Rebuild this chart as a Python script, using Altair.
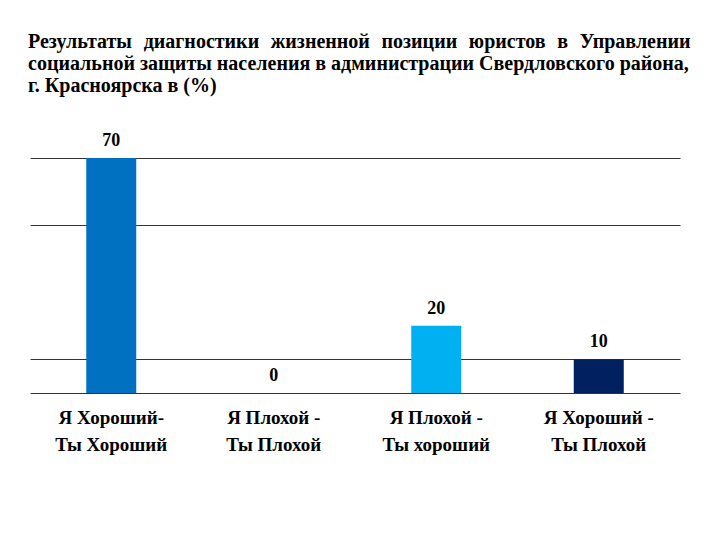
import altair as alt
import pandas as pd

categories = ["Я Хороший-|Ты Хороший", "Я Плохой -|Ты Плохой", "Я Плохой -|Ты хороший", "Я Хороший -|Ты Плохой"]
values = [70, 0, 20, 10]
colors = ["#0070C0", "#4F81BD", "#00B0F0", "#002060"]
grid_values = [0, 10, 50, 70]
GAP = "\u00a0\u00a0\u200a"
title_lines = [
    GAP.join(["Результаты", "диагностики", "жизненной", "позиции", "юристов", "в", "Управлении"]),
    "социальной защиты населения в администрации Свердловского района,",
    "г. Красноярска в (%)",
]

df = pd.DataFrame({"cat": categories, "val": values})
FONT = "Liberation Serif"

x = alt.X("cat:N", sort=categories, title=None,
          scale=alt.Scale(paddingInner=0, paddingOuter=0),
          axis=alt.Axis(labelAngle=0, labelExpr="split(datum.label, '|')",
                        labelFont=FONT, labelFontSize=19, labelFontWeight="bold",
                        labelColor="#000000", labelPadding=15, labelLineHeight=27,
                        domain=False, ticks=False, labelBaseline="top"))
y = alt.Y("val:Q", title=None, scale=alt.Scale(domain=[0, 70], nice=False),
          axis=alt.Axis(values=grid_values, grid=True, gridColor="#333333", gridWidth=1,
                        labels=False, ticks=False, domain=False))

bars = alt.Chart(df).mark_bar(size=50).encode(
    x=x, y=y,
    color=alt.Color("cat:N", sort=categories, scale=alt.Scale(domain=categories, range=colors), legend=None),
)
text = alt.Chart(df).mark_text(baseline="bottom", dy=-8, font=FONT, fontSize=18,
                               fontWeight="bold", color="#000000").encode(
    x=alt.X("cat:N", sort=categories), y="val:Q", text="val:Q")

chart = (bars + text).properties(
    width=650, height=235,
    autosize=alt.AutoSizeParams(type="none"),
    padding={"left": 30, "top": 158, "right": 40, "bottom": 147},
    title=alt.TitleParams(text=title_lines, anchor="start", frame="group", font=FONT,
                          fontSize=20, fontWeight="bold", color="#000000",
                          lineHeight=22, offset=36, dx=-2),
).configure(background="white", font=FONT).configure_view(strokeWidth=0, stroke="transparent")

chart.save("out.html", embed_options={"renderer": "svg", "actions": False})
